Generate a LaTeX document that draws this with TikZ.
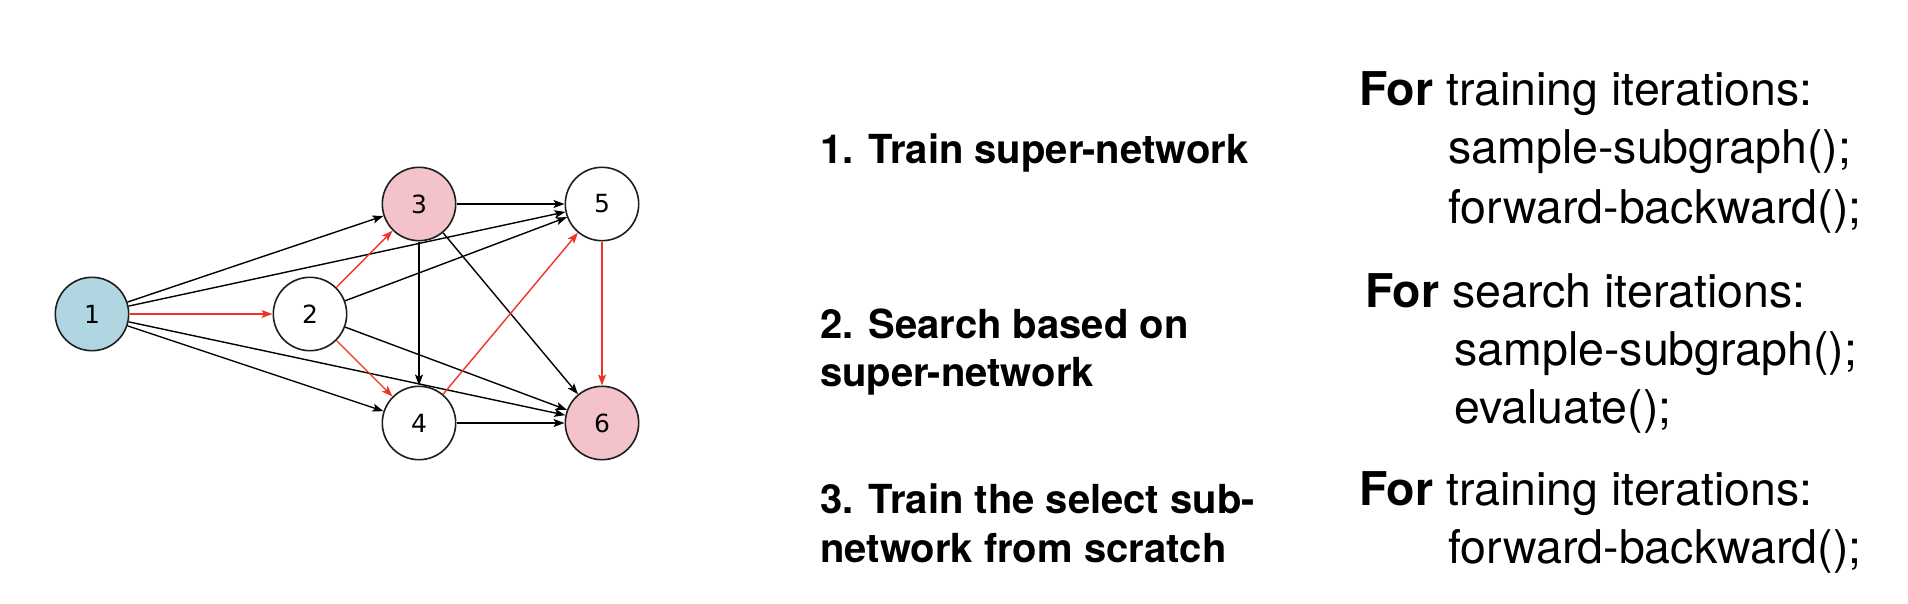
\documentclass[tikz,border=0pt]{standalone}
\usepackage{fontspec}
\setmainfont{TeX Gyre Heros}
\newfontfamily\dejavu{DejaVu Sans}
\usetikzlibrary{arrows.meta}
\definecolor{nodeblue}{RGB}{176,214,226}
\definecolor{nodepink}{RGB}{244,194,203}
\definecolor{edgered}{RGB}{238,52,40}
\definecolor{rimgray}{RGB}{30,30,30}
\tikzset{
  gnode/.style={circle, draw=rimgray, line width=1.6pt, minimum size=73.4pt, inner sep=0pt, fill=white, font=\dejavu\fontsize{25}{30}\selectfont},
  edgeblack/.style={draw=black, line width=1.4pt, -{Stealth[length=11pt,width=8pt,inset=2.5pt]}},
  edgered/.style={draw=edgered, line width=1.4pt, -{Stealth[length=11pt,width=8pt,inset=2.5pt]}},
  steplabel/.style={anchor=base west, inner sep=0pt, font=\bfseries\fontsize{40}{48}\selectfont},
  codeline/.style={anchor=base west, inner sep=0pt, font=\fontsize{46.5}{55}\selectfont}
}
\begin{document}
\begin{tikzpicture}[x=1pt, y=-1pt]
\useasboundingbox (0,0) rectangle (1908,604);
% graph nodes
\node[gnode, fill=nodeblue] (n1) at (92,314) {1};
\node[gnode] (n2) at (310,314) {2};
\node[gnode, fill=nodepink] (n3) at (419,204) {3};
\node[gnode] (n4) at (419,423) {4};
\node[gnode] (n5) at (602,204) {5};
\node[gnode, fill=nodepink] (n6) at (602,423) {6};
% black edges
\draw[edgeblack] (n1) -- (n3);
\draw[edgeblack] (n1) -- (n5);
\draw[edgeblack] (n1) -- (n4);
\draw[edgeblack] (n1) -- (n6);
\draw[edgeblack] (n2) -- (n5);
\draw[edgeblack] (n2) -- (n6);
\draw[edgeblack] (n3) -- (n5);
\draw[edgeblack] (n3) -- (n4);
\draw[edgeblack] (n3) -- (n6);
\draw[edgeblack] (n4) -- (n6);
% red edges
\draw[edgered] (n1) -- (n2);
\draw[edgered] (n2) -- (n3);
\draw[edgered] (n2) -- (n4);
\draw[edgered] (n4) -- (n5);
\draw[edgered] (n5) -- (n6);
% step labels
\node[steplabel] (s1) at (820,164) {1. Train super-network};
\node[steplabel] (s2a) at (820,338) {2. Search based on};
\node[steplabel] (s2b) at (820,386) {super-network};
\node[steplabel] (s3a) at (820,513) {3. Train the select sub-};
\node[steplabel] (s3b) at (820,562) {network from scratch};
% code blocks
\node[codeline] (c1a) at (1359,106) {\textbf{For} training iterations:};
\node[codeline] (c1b) at (1448,164) {sample-subgraph();};
\node[codeline] (c1c) at (1448,223) {forward-backward();};
\node[codeline] (c2a) at (1365,307) {\textbf{For} search iterations:};
\node[codeline] (c2b) at (1454,365) {sample-subgraph();};
\node[codeline] (c2c) at (1454,423) {evaluate();};
\node[codeline] (c3a) at (1359,505) {\textbf{For} training iterations:};
\node[codeline] (c3b) at (1448,563) {forward-backward();};
\end{tikzpicture}
\end{document}
